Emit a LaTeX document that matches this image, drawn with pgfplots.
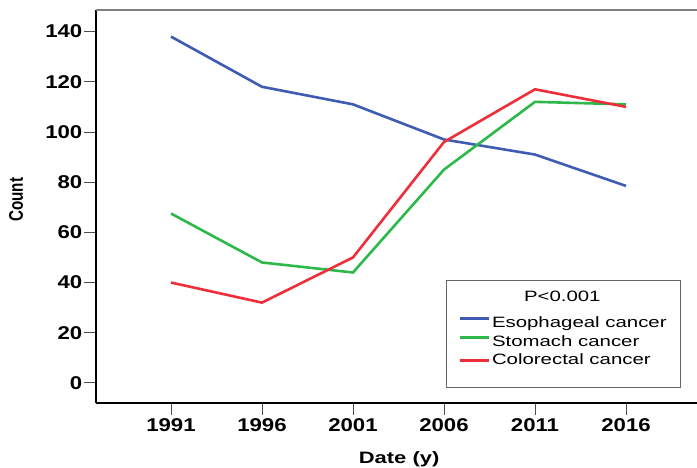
\documentclass[border=0pt]{standalone}
\usepackage{pgfplots}
\pgfplotsset{compat=1.18}
\usepackage{fontspec}
\setmainfont{Liberation Sans}
\newfontfamily\tickfont{Liberation Sans}[FakeStretch=1.2]
\newfontfamily\legfont{Liberation Sans}[FakeStretch=1.36]
\newfontfamily\labfont{Liberation Sans}[FakeStretch=1.33]
\definecolor{cblue}{HTML}{3F5BB3}
\definecolor{cgreen}{HTML}{2EB84A}
\definecolor{cred}{HTML}{EE2F3A}
\begin{document}
\begin{tikzpicture}
\useasboundingbox (-96bp,-65bp) rectangle (601bp,403bp);
\begin{axis}[
  scale only axis, width=605bp, height=393bp,
  xmin=1986.88, xmax=2020.12, ymin=-8, ymax=148.6,
  axis lines*=left,
  axis line style={black, line width=2bp},
  clip=false,
  xtick={1991,1996,2001,2006,2011,2016},
  ytick={0,20,40,60,80,100,120,140},
  tick align=outside,
  major tick length=12bp,
  tick style={line width=0.9bp, color=black!70},
  /pgf/number format/assume math mode=true,
  /pgf/number format/set thousands separator={},
  ticklabel style={font=\tickfont\bfseries\fontsize{18.5bp}{20bp}\selectfont, text=black},
  yticklabel style={inner xsep=1.5bp},
  xlabel={Date (y)},
  ylabel={\scalebox{1}[1.3]{Count}},
  xlabel style={font=\labfont\bfseries\fontsize{16.5bp}{18bp}\selectfont, at={(axis description cs:0.501,-0.153)}, anchor=base},
  ylabel style={font=\bfseries\fontsize{15.2bp}{17bp}\selectfont, at={(axis description cs:-0.132,0.517)}, anchor=center},
  legend style={at={(axis description cs:0.5785,0.313)}, anchor=north west,
    draw=black!60, line width=0.8bp, inner xsep=12bp, inner ysep=8bp,
    font=\legfont\fontsize{15bp}{18bp}\selectfont, row sep=0bp, column sep=0bp,
    nodes={inner xsep=2bp, inner ysep=1.75bp, text height=11bp, text depth=4bp}},
  legend cell align=left,
  legend image code/.code={\draw[#1, line width=2.6bp] (0bp,5.5bp) -- (29bp,5.5bp);},
  every axis plot/.append style={line width=2.6bp, sharp plot},
]
\draw[black!50, line width=1.5bp] (rel axis cs:0,1) -- (rel axis cs:1,1);
\addlegendimage{empty legend}
\addlegendentry[text depth=12.1bp]{\hspace*{32bp}P<0.001}
\addplot[cblue] coordinates {(1991,138) (1996,118) (2001,111) (2006,97) (2011,91) (2016,78.5)};
\addlegendentry{Esophageal cancer}
\addplot[cgreen] coordinates {(1991,67.5) (1996,48) (2001,44) (2006,85) (2011,112) (2016,111)};
\addlegendentry{Stomach cancer}
\addplot[cred] coordinates {(1991,40) (1996,32) (2001,50) (2006,96) (2011,117) (2016,110)};
\addlegendentry[text depth=13.25bp]{Colorectal cancer}
\end{axis}
\end{tikzpicture}
\end{document}
